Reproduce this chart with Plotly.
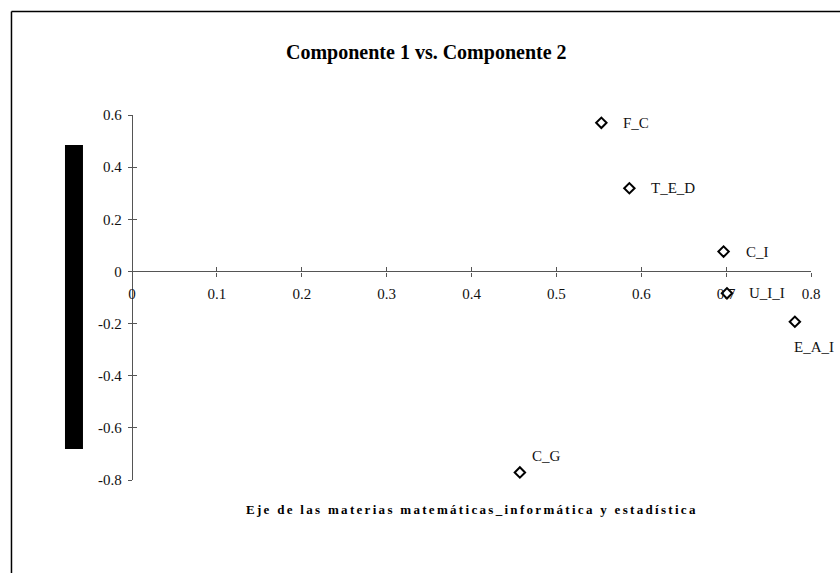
import plotly.graph_objects as go

# Component loadings (Componente 1 on x, Componente 2 on y)
labels = ["F_C", "T_E_D", "C_I", "U_I_I", "E_A_I", "C_G"]
comp1 = [0.553, 0.586, 0.697, 0.701, 0.781, 0.457]
comp2 = [0.570, 0.319, 0.076, -0.084, -0.193, -0.771]

x_ticks = [0, 0.1, 0.2, 0.3, 0.4, 0.5, 0.6, 0.7, 0.8]
x_tick_text = ["0", "0.1", "0.2", "0.3", "0.4", "0.5", "0.6", "0.7", "0.8"]
y_ticks = [-0.8, -0.6, -0.4, -0.2, 0, 0.2, 0.4, 0.6]
y_tick_text = ["-0.8", "-0.6", "-0.4", "-0.2", "0", "0.2", "0.4", "0.6"]

title_text = "Componente 1 vs. Componente 2"
x_title = "Eje de las materias matemáticas_informática y estadística"

x_range = [0, 0.8]
y_range = [-0.8, 0.6]

# label offsets (pixels) relative to each marker
label_shift = {
    "F_C": (20, 0, "left", "middle"),
    "T_E_D": (20, 0, "left", "middle"),
    "C_I": (20, 0, "left", "middle"),
    "U_I_I": (20, 0, "left", "middle"),
    "E_A_I": (-3, -15, "left", "top"),
    "C_G": (10, 16, "left", "middle"),
}

SERIF = "Liberation Serif, Times New Roman, serif"
AXIS_COL = "#555555"

fig = go.Figure()
fig.add_trace(go.Scatter(
    x=comp1, y=comp2, mode="markers",
    marker=dict(symbol="diamond-open", size=8, color="black",
                line=dict(width=2, color="black")),
    hoverinfo="skip", showlegend=False,
))
# empty trace so the tick-overlay axes get a subplot
fig.add_trace(go.Scatter(x=[], y=[], xaxis="x2", yaxis="y2",
                         hoverinfo="skip", showlegend=False))

for lab, xv, yv in zip(labels, comp1, comp2):
    dx, dy, xa, ya = label_shift[lab]
    fig.add_annotation(x=xv, y=yv, text=lab, showarrow=False,
                       xanchor=xa, yanchor=ya, xshift=dx, yshift=dy,
                       font=dict(family=SERIF, size=15, color="#111"))

# x axis runs through y = 0
x_pos = (0 - y_range[0]) / (y_range[1] - y_range[0])

common_x = dict(range=x_range, tickmode="array", tickvals=x_ticks,
                showgrid=False, zeroline=False, showline=True,
                linecolor=AXIS_COL, linewidth=1.3, tickcolor=AXIS_COL,
                ticklen=4, tickwidth=1, anchor="free", position=x_pos)
common_y = dict(range=y_range, tickmode="array", tickvals=y_ticks,
                showgrid=False, zeroline=False, showline=True,
                linecolor=AXIS_COL, linewidth=1.3, tickcolor=AXIS_COL,
                ticklen=4, tickwidth=1, anchor="free", position=0)

fig.update_layout(
    width=840, height=573,
    margin=dict(l=132, r=29, t=115, b=93),
    paper_bgcolor="white", plot_bgcolor="white",
    xaxis=dict(**common_x, ticks="outside", ticktext=x_tick_text,
               ticklabelstandoff=4,
               tickfont=dict(family=SERIF, size=15, color="#111")),
    yaxis=dict(**common_y, ticks="outside", ticktext=y_tick_text,
               ticklabelstandoff=3,
               tickfont=dict(family=SERIF, size=15, color="#111")),
    xaxis2=dict(**common_x, ticks="inside", overlaying="x",
                showticklabels=False),
    yaxis2=dict(**common_y, ticks="inside", overlaying="y",
                showticklabels=False),
    showlegend=False,
)

# chart title
fig.add_annotation(text="<b>" + title_text + "</b>", xref="paper", yref="paper",
                   x=0.5, y=1, yanchor="middle", yshift=63, xshift=-45,
                   showarrow=False,
                   font=dict(family=SERIF, size=20, color="black"))

# x-axis title, letter-spaced
fig.add_annotation(text='<b><span style="letter-spacing:2.3px">' + x_title + "</span></b>",
                   xref="paper", yref="paper", x=0.5, y=0,
                   yanchor="middle", yshift=-29, showarrow=False,
                   font=dict(family=SERIF, size=13, color="black"))

# solid block where the vertical axis title sits
fig.add_shape(type="rect", xref="paper", yref="paper",
              x0=-0.0987, x1=-0.0722, y0=0.085, y1=0.918,
              fillcolor="black", line=dict(width=0))

# outer chart frame (top and left edges)
fig.add_shape(type="line", xref="paper", yref="paper",
              x0=-0.1775, x1=1.1, y0=1.2836, y1=1.2836,
              line=dict(color="black", width=1.5))
fig.add_shape(type="line", xref="paper", yref="paper",
              x0=-0.1775, x1=-0.1775, y0=1.2836, y1=-0.3,
              line=dict(color="black", width=1.5))

fig.write_html("out.html")
